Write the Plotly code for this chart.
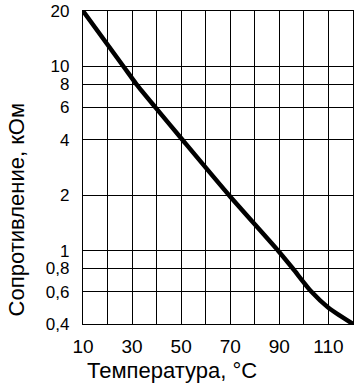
import plotly.graph_objects as go

# Curve
temperature = [10, 26.5, 31.8, 39.5, 50.5, 69.5, 89.5, 95.5, 103, 110, 120]
resistance = [20, 10, 8, 6, 4, 2, 1, 0.8, 0.6, 0.49, 0.4]

# Axis ticks
x_tickvals = [10, 20, 30, 40, 50, 60, 70, 80, 90, 100, 110, 120]
x_ticktext = ["10", "", "30", "", "50", "", "70", "", "90", "", "110", ""]
y_tickvals = [0.4, 0.6, 0.8, 1, 2, 4, 6, 8, 10, 20]
y_ticktext = ["0,4", "0,6", "0,8", "1", "2", "4", "6", "8", "10", "20"]

x_title = "Температура, °C"
y_title = "Сопротивление, кОм"

FONT = "Liberation Sans, Arial, sans-serif"

fig = go.Figure()
fig.add_trace(go.Scatter(
    x=temperature, y=resistance, mode="lines",
    line=dict(color="black", width=4.5, shape="spline", smoothing=0.6),
    hoverinfo="skip", showlegend=False, cliponaxis=False,
))

fig.update_xaxes(
    range=[10, 120], tickvals=x_tickvals, ticktext=x_ticktext,
    showgrid=True, gridcolor="black", gridwidth=1.4,
    showline=True, linecolor="black", linewidth=1.4, mirror=True,
    zeroline=False, ticks="", ticklabelstandoff=5, automargin=False,
    tickfont=dict(family=FONT, size=19, color="black"),
)
fig.update_yaxes(
    type="log", range=[-0.39794, 1.30103],
    tickvals=y_tickvals, ticktext=y_ticktext,
    showgrid=True, gridcolor="black", gridwidth=1.4,
    showline=True, linecolor="black", linewidth=1.4, mirror=True,
    zeroline=False, ticks="", ticklabelstandoff=9, automargin=False,
    tickfont=dict(family=FONT, size=17, color="black"),
)

fig.add_annotation(
    text=x_title, xref="paper", yref="paper", x=0.328, y=-0.150,
    xanchor="center", yanchor="middle", showarrow=False,
    font=dict(family=FONT, size=22, color="black"),
)
fig.add_annotation(
    text=y_title, xref="paper", yref="paper", x=-0.247, y=0.364,
    xanchor="center", yanchor="middle", showarrow=False, textangle=-90,
    font=dict(family=FONT, size=22, color="black"),
)

fig.update_layout(
    width=354, height=386,
    margin=dict(l=83, r=1, t=11, b=62),
    paper_bgcolor="white", plot_bgcolor="white",
)

fig.write_html(
    "out.html",
    config={"displayModeBar": False},
    post_script="document.body.style.margin='0';document.body.style.overflow='hidden';",
)
